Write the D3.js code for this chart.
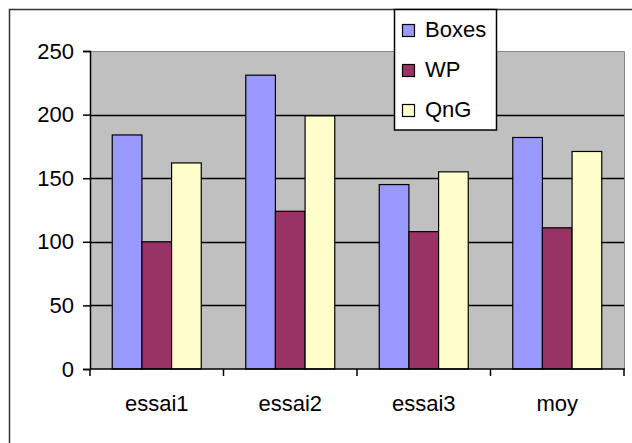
<!DOCTYPE html>
<html>
<head>
<meta charset="utf-8">
<script src="https://cdn.jsdelivr.net/npm/d3@7"></script>
<style>
  html, body { margin: 0; padding: 0; background: #fff; }
  svg { display: block; }
  text { font-family: "Liberation Sans", Arial, sans-serif; }
</style>
</head>
<body>
<svg id="chart" width="632" height="443"></svg>
<script>
// Chart data
const categories = ["essai1", "essai2", "essai3", "moy"];
const seriesNames = ["Boxes", "WP", "QnG"];
const boxesValues = [184, 231, 145, 182];
const wpValues = [100, 124, 108, 111];
const qngValues = [162, 199, 155, 171];
const yTicks = [0, 50, 100, 150, 200, 250];

const seriesColors = ["#9999ff", "#993366", "#ffffcc"];
const seriesValues = [boxesValues, wpValues, qngValues];

const svg = d3.select("#chart");

const plot = { left: 90, right: 624, top: 51, bottom: 369 };

const x0 = d3.scaleBand().domain(categories).range([plot.left, plot.right]).padding(0);
const x1 = d3.scaleBand().domain(seriesNames).range([0, x0.bandwidth()])
  .paddingInner(0).paddingOuter(0.75);
const y = d3.scaleLinear().domain([0, 250]).range([plot.bottom, plot.top]);

// Outer chart frame
svg.append("rect")
  .attr("x", 9.5).attr("y", 9.5)
  .attr("width", 700).attr("height", 500)
  .attr("fill", "#fff")
  .attr("stroke", "#333").attr("stroke-width", 1.5);

// Plot background
svg.append("rect")
  .attr("x", plot.left).attr("y", plot.top)
  .attr("width", plot.right - plot.left).attr("height", plot.bottom - plot.top)
  .attr("fill", "#c0c0c0");

// Plot border (top and right)
svg.append("path")
  .attr("d", `M${plot.left},${y(250) + 0.5}H${plot.right + 0.5}V${plot.bottom}`)
  .attr("fill", "none").attr("stroke", "#888").attr("stroke-width", 1);

// Gridlines
svg.append("g")
  .selectAll("line")
  .data(yTicks.filter(t => t > 0 && t < 250))
  .join("line")
  .attr("x1", plot.left).attr("x2", plot.right)
  .attr("y1", d => Math.round(y(d)) + 0.5).attr("y2", d => Math.round(y(d)) + 0.5)
  .attr("stroke", "#000").attr("stroke-width", 1.3);

// Bars
const groups = svg.append("g")
  .selectAll("g")
  .data(categories)
  .join("g")
  .attr("transform", d => `translate(${x0(d)},0)`);

groups.selectAll("rect")
  .data((c, i) => seriesNames.map((s, j) => ({ s, j, v: seriesValues[j][i] })))
  .join("rect")
  .attr("x", d => x1(d.s))
  .attr("y", d => y(d.v))
  .attr("width", x1.bandwidth())
  .attr("height", d => y(0) - y(d.v))
  .attr("fill", d => seriesColors[d.j])
  .attr("stroke", "#000")
  .attr("stroke-width", 1.2);

// Y axis
const yAxis = svg.append("g")
  .attr("transform", `translate(${plot.left},0)`)
  .call(d3.axisLeft(y).tickValues(yTicks).tickSize(7).tickPadding(9).tickFormat(d3.format("d")));
yAxis.select(".domain").attr("stroke", "#000").attr("stroke-width", 1.5);
yAxis.selectAll(".tick line").attr("stroke", "#000").attr("stroke-width", 1.5);
yAxis.selectAll(".tick text")
  .attr("font-size", 22)
  .attr("font-family", "'Liberation Sans', Arial, sans-serif")
  .attr("fill", "#000");

// X axis line and category boundary ticks
const xAxis = svg.append("g");
xAxis.append("line")
  .attr("x1", plot.left).attr("x2", plot.right + 1)
  .attr("y1", plot.bottom).attr("y2", plot.bottom)
  .attr("stroke", "#000").attr("stroke-width", 1.5);
const boundaries = categories.map(c => x0(c)).concat([x0(categories[categories.length - 1]) + x0.bandwidth()]);
xAxis.selectAll("line.bt")
  .data(boundaries)
  .join("line")
  .attr("class", "bt")
  .attr("x1", d => d).attr("x2", d => d)
  .attr("y1", plot.bottom).attr("y2", plot.bottom + 7)
  .attr("stroke", "#000").attr("stroke-width", 1.5);
xAxis.selectAll("text")
  .data(categories)
  .join("text")
  .attr("x", d => x0(d) + x0.bandwidth() / 2)
  .attr("y", 411)
  .attr("text-anchor", "middle")
  .attr("font-size", 22)
  .attr("fill", "#000")
  .text(d => d);

// Legend
const legend = svg.append("g");
legend.append("rect")
  .attr("x", 394.5).attr("y", 9.5)
  .attr("width", 102).attr("height", 120.5)
  .attr("fill", "#fff")
  .attr("stroke", "#000").attr("stroke-width", 1.5);
const items = legend.selectAll("g")
  .data(seriesNames)
  .join("g")
  .attr("transform", (d, i) => `translate(0,${i * 40})`);
items.append("rect")
  .attr("x", 402.5).attr("y", 24.5)
  .attr("width", 12).attr("height", 12)
  .attr("fill", (d, i) => seriesColors[i])
  .attr("stroke", "#000").attr("stroke-width", 1.2);
items.append("text")
  .attr("x", 425).attr("y", 37)
  .attr("font-size", 22)
  .attr("fill", "#000")
  .text(d => d);
</script>
</body>
</html>
